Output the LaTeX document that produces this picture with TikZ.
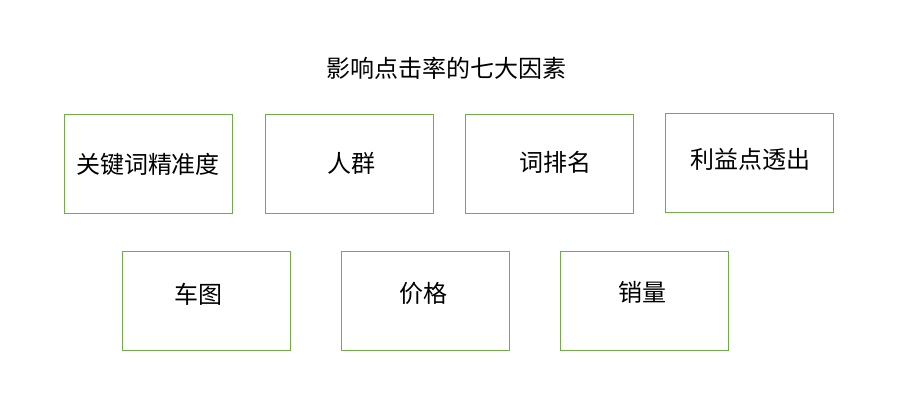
\documentclass[tikz,border=0pt]{standalone}
\usepackage{fontspec}
\setmainfont{Noto Sans CJK SC}
\definecolor{boxgreen}{HTML}{70AD47}
\begin{document}
\begin{tikzpicture}[x=1pt,y=-1pt,
  factor/.style={draw=boxgreen,line width=1pt,minimum width=168pt,minimum height=99pt,inner sep=0pt},
  lbl/.style={font=\fontsize{24}{26}\selectfont,inner sep=0pt,anchor=center},
  ttl/.style={font=\fontsize{24}{26}\selectfont,inner sep=0pt,anchor=center}]
\useasboundingbox[fill=white] (0,0) rectangle (922,417);
\node[ttl] (title) at (446.5,68) {影响点击率的七大因素};
\node[factor] (b1) at (148.3,163.6) {};
\node[factor] (b2) at (349,163.6) {};
\node[factor] (b3) at (549.5,163.8) {};
\node[factor] (b4) at (749.3,162.8) {};
\node[factor] (b5) at (206.5,300.7) {};
\node[factor] (b6) at (425.3,300.7) {};
\node[factor] (b7) at (644.7,300.7) {};
\node[lbl] (t1) at (148,164) {关键词精准度};
\node[lbl] (t2) at (351,163) {人群};
\node[lbl] (t3) at (555.5,162) {词排名};
\node[lbl] (t4) at (750.5,159.5) {利益点透出};
\node[lbl] (t5) at (198.5,294) {车图};
\node[lbl] (t6) at (423.3,293) {价格};
\node[lbl] (t7) at (642,292.8) {销量};
\end{tikzpicture}
\end{document}
